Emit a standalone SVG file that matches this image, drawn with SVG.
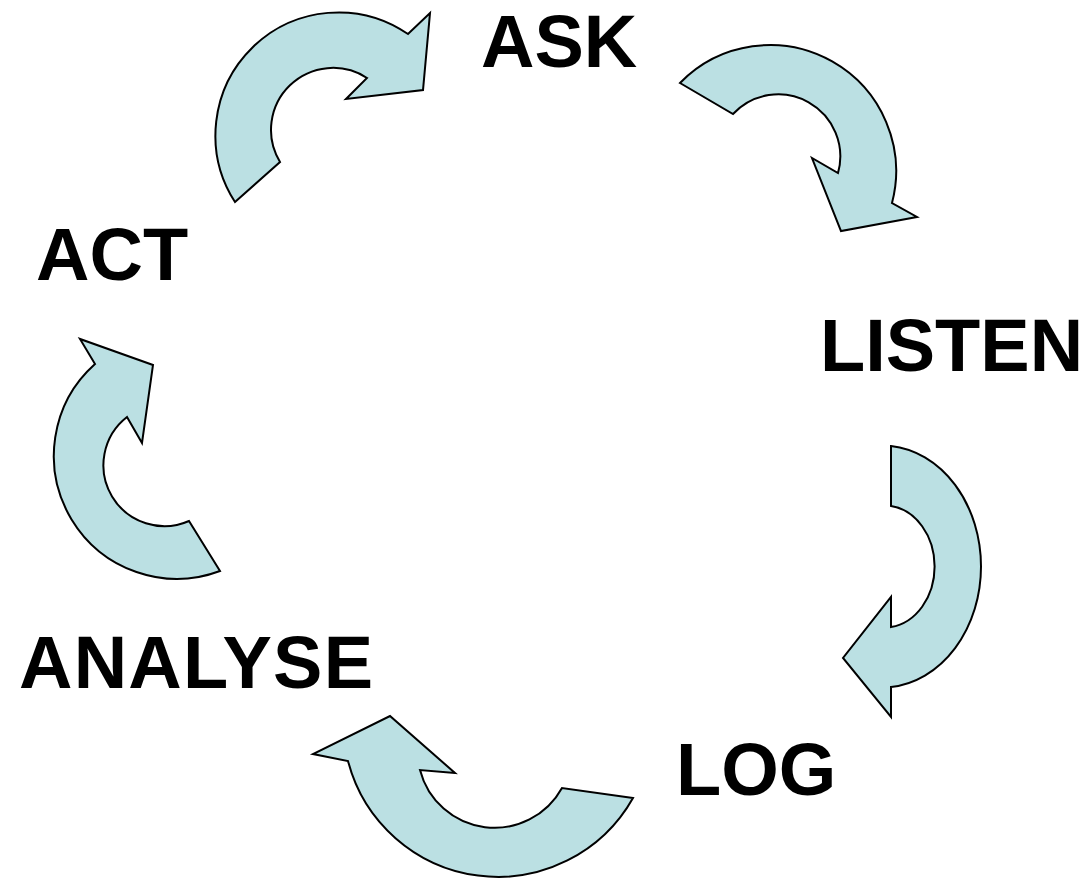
<svg xmlns="http://www.w3.org/2000/svg" width="1086" height="879" viewBox="0 0 1086 879">
<style>
.arr{fill:#BBE0E3;stroke:#000;stroke-width:2;stroke-linejoin:miter}
.lbl{font-family:"Liberation Sans",Arial,sans-serif;font-weight:bold;font-size:74px;fill:#000}
</style>
<rect width="1086" height="879" fill="#fff"/>
<g id="connectors">
<path id="arrow-act-ask" class="arr" d="M235,202 L280,162 A62,62 0 0,1 367,78 L346,99 L423,90 L430,13 L408,34 A123,123 0 0,0 235,202 Z"/>
<path id="arrow-ask-listen" class="arr" d="M680,83 L733,114 A62,62 0 0,1 838,173 L812,158 L841,231 L917,217 L892,203 A126,126 0 0,0 680,83 Z"/>
<path id="arrow-listen-log" class="arr" d="M891,446 L891,506 A50,61 0 0,1 891,627 L891,597 L843,658 L891,717 L891,687 A99,121 0 0,0 891,446 Z"/>
<path id="arrow-log-analyse" class="arr" d="M633,798 L562,788 A77,77 0 0,1 420,770 L455,773 L390,716 L313,754 L348,761 A155,155 0 0,0 633,798 Z"/>
<path id="arrow-analyse-act" class="arr" d="M220,571 L189,521 A61,61 0 0,1 127,417 L142,443 L153,365 L80,339 L95,364 A123,123 0 0,0 220,571 Z"/>
</g>
<g id="ask"><text class="lbl" x="481" y="67">ASK</text></g>
<g id="listen"><text class="lbl" x="820" y="371">LISTEN</text></g>
<g id="log"><text class="lbl" x="676" y="795">LOG</text></g>
<g id="analyse"><text class="lbl" x="19" y="688" letter-spacing="1.2">ANALYSE</text></g>
<g id="act"><text class="lbl" x="36" y="280">ACT</text></g>
</svg>
